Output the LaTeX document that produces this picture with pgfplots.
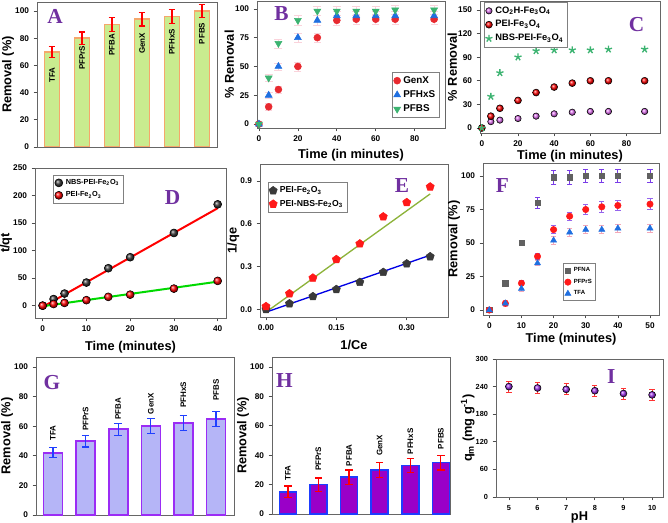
\documentclass[border=0pt]{standalone}
\usepackage{fontspec}
\setmainfont{Liberation Sans}
\newfontfamily\letterfont{Liberation Serif}
\usepackage{pgfplots}
\pgfplotsset{compat=1.18}

\definecolor{letterc}{HTML}{7030A0}
\definecolor{fillA}{HTML}{C9EC8F}
\definecolor{edgeA}{HTML}{F5A76C}
\definecolor{fillG}{HTML}{B5B5F7}
\definecolor{edgeG}{HTML}{9B2CF5}
\definecolor{errG}{HTML}{2040FF}
\definecolor{fillH}{HTML}{9A00C8}
\definecolor{edgeH}{HTML}{1E3CFF}
\definecolor{cred}{HTML}{E8292F}
\definecolor{cblue}{HTML}{1F6FE0}
\definecolor{cgreen}{HTML}{3CB371}
\definecolor{cviolet}{HTML}{E070F0}
\definecolor{cdark}{HTML}{3A3A3A}
\definecolor{lineolive}{HTML}{8DB33A}
\definecolor{errpink}{HTML}{F4A8B8}
\definecolor{errviolet}{HTML}{7A3DE8}
\definecolor{ballI}{HTML}{9B30E8}

\tikzset{letter/.style={font=\letterfont\fontsize{16}{16}\selectfont\bfseries, text=letterc}}
\pgfplotsset{
  panel/.style={
    scale only axis, anchor=south west,
    axis line style={black!60, line width=0.6pt},
    tick style={black!70, line width=0.5pt},
    tick align=outside, major tick length=2.5pt,
    xtick pos=bottom, ytick pos=left,
    tick label style={font=\fontsize{6.2}{7}\selectfont\bfseries},
    label style={font=\fontsize{9.6}{11}\selectfont\bfseries},
    ylabel shift=-6pt,
    /pgf/number format/assume math mode=true,
    legend cell align=left,
    legend style={draw=black!50, line width=0.4pt, inner sep=1pt},
  },
  barlab/.style={draw=none, mark=none, forget plot, nodes near coords,
    point meta=explicit symbolic,
    every node near coord/.append style={rotate=90, font=\fontsize{6}{6}\selectfont\bfseries, inner sep=0.5pt, text=black}},
}

\begin{document}
\begin{tikzpicture}
\path[use as bounding box] (0,0) rectangle (501pt,391.5pt);

% A
\begin{axis}[panel, at={(27.75pt,281.25pt)}, width=135pt, height=108.75pt,
  xmin=-0.5, xmax=5.5, ymin=0, ymax=106.6, xtick=\empty, ytick={0,20,...,100},
  ylabel={Removal (\%)}]
\addplot[ybar, bar width=11.25pt, fill=fillA, draw=edgeA, line width=1.2pt,
  error bars/.cd, y dir=both, y explicit,
  error bar style={red, line width=0.9pt},
  error mark options={rotate=90, red, mark size=2.5pt, line width=0.9pt}]
  table[x=x, y=y, y error=e] {
x y e
0 70 4
1 80 4.5
2 90 5
3 94 5
4 96 5
5 100 5
};
\addplot[barlab, every node near coord/.append style={anchor=east}]
  table[x=x, y=ly, meta=lab] {
x ly lab
0 59 TFA
1 75 PFPrS
2 84 PFBA
3 84.5 GenX
4 87.5 PFHxS
5 92 PFBS
};
\node[letter] at (rel axis cs:0.1,0.9) {A};
\end{axis}

% B
\begin{axis}[panel, at={(192.75pt,295.5pt)}, width=141pt, height=95.25pt,
  xmin=-1, xmax=95.6, ymin=-3.4, ymax=106.8, xtick={0,20,...,80}, ytick={0,25,...,100},
  xlabel={Time (in minutes)}, ylabel={\% Removal}, xlabel shift=-1pt,
  legend style={at={(0.97,0.08)}, anchor=south east, font=\fontsize{7.4}{8.5}\selectfont\bfseries}]
\addplot[only marks, mark=*, mark size=2.6pt, color=cred,
  error bars/.cd, y dir=both, y explicit, error bar style={errpink!50, line width=0.5pt}]
  coordinates {(0,0) (5,15) +- (0,3) (10,30) +- (0,3) (20,50) +- (0,4) (30,75) +- (0,4) (40,90) +- (0,4)
  (50,91) +- (0,4) (60,91) +- (0,4) (70,91) +- (0,4) (90,91) +- (0,4)};
\addplot[only marks, mark=triangle*, mark size=3pt, color=cblue,
  error bars/.cd, y dir=both, y explicit, error bar style={errpink!50, line width=0.5pt}]
  coordinates {(0,0) (5,25) +- (0,3) (10,50) +- (0,3) (20,75) +- (0,4) (30,90) +- (0,4) (40,94) +- (0,4)
  (50,94) +- (0,4) (60,94) +- (0,4) (70,94) +- (0,4) (90,94) +- (0,4)};
\addplot[only marks, mark=triangle*, mark size=3pt, color=cgreen, mark options={rotate=180},
  error bars/.cd, y dir=both, y explicit, error bar style={errpink!50, line width=0.5pt}]
  coordinates {(0,0) (5,40) +- (0,3) (10,70) +- (0,4) (20,90) +- (0,4) (30,98) +- (0,4) (40,98) +- (0,4)
  (50,98) +- (0,4) (60,98) +- (0,4) (70,99) +- (0,4) (90,99) +- (0,4)};
\legend{GenX, PFHxS, PFBS}
\node[letter] at (rel axis cs:0.13,0.9) {B};
\end{axis}

% C
\begin{axis}[panel, at={(360pt,291.75pt)}, width=135pt, height=99pt,
  xmin=-1, xmax=98.5, ymin=-6.4, ymax=161.4, xtick={0,20,...,80}, ytick={0,30,...,150},
  xlabel={Time (in minutes)}, ylabel={\% Removal}, xlabel shift=-4pt,
  legend style={at={(0.02,0.99)}, anchor=north west, font=\fontsize{7}{8}\selectfont\bfseries}]
\addplot[only marks, mark=ball, ball color=cviolet, mark size=2.4pt]
  coordinates {(0,0) (5,8) (10,10) (20,12) (30,15) (40,18) (50,20) (60,21) (70,21) (90,21)};
\addplot[only marks, mark=ball, ball color=red, mark size=2.6pt]
  coordinates {(0,0) (5,15) (10,25) (20,35) (30,45) (40,52) (50,57) (60,60) (70,60) (90,60)};
\addplot[only marks, mark=star, mark size=2.8pt, color=cgreen, line width=1pt]
  coordinates {(0,0) (5,40) (10,70) (20,90) (30,98) (40,99) (50,99) (60,99) (70,100) (90,100)};
\legend{CO\textsubscript{2}H-Fe\textsubscript{3}O\textsubscript{4}, PEI-Fe\textsubscript{3}O\textsubscript{4}, NBS-PEI-Fe\textsubscript{3}O\textsubscript{4}}
\node[letter] at (rel axis cs:0.87,0.82) {C};
\end{axis}

% D
\begin{axis}[panel, at={(26.25pt,153pt)}, width=143.25pt, height=112.5pt,
  xmin=-1.75, xmax=41.9, ymin=-22.4, ymax=250, xtick={0,10,...,40}, ytick={0,50,...,250},
  xlabel={Time (minutes)}, ylabel={t/qt},
  legend style={at={(0.094,0.953)}, anchor=north west, font=\fontsize{5.5}{6.5}\selectfont\bfseries}]
\addplot[red, line width=1.5pt, forget plot] coordinates {(0.5,0) (40,177)};
\addplot[green!85!black, line width=1.5pt, forget plot] coordinates {(0,-1) (40,43.6)};
\addplot[only marks, mark=ball, ball color=cdark, mark size=3pt]
  coordinates {(0,0) (2.5,12) (5,22) (10,42) (15,68) (20,88) (30,132) (40,184)};
\addplot[only marks, mark=ball, ball color=red, mark size=3pt]
  coordinates {(0,0) (2.5,3) (5,5) (10,10) (15,16) (20,20) (30,31) (40,45)};
\legend{NBS-PEI-Fe\textsubscript{2}O\textsubscript{3}, PEI-Fe\textsubscript{2}O\textsubscript{3}}
\node[letter] at (rel axis cs:0.72,0.8) {D};
\end{axis}

% E
\begin{axis}[panel, at={(195pt,153.75pt)}, width=141pt, height=114.75pt,
  xmin=-0.0128, xmax=0.388, ymin=-0.054, ymax=1.02,
  xtick={0,0.15,0.30}, xticklabels={0.00,0.15,0.30},
  ytick={0,0.3,0.6,0.9}, yticklabels={0.0,0.3,0.6,0.9},
  xlabel={1/Ce}, ylabel={1/qe},
  legend style={at={(0.04,0.88)}, anchor=north west, font=\fontsize{6.5}{7.5}\selectfont\bfseries}]
\addplot[lineolive, line width=1pt, forget plot] coordinates {(0,-0.02) (0.35,0.81)};
\addplot[blue!90!black, line width=1pt, forget plot] coordinates {(0,-0.02) (0.35,0.38)};
\addplot[only marks, mark=pentagon*, mark size=3.2pt, color=cdark]
  coordinates {(0,0) (0.05,0.04) (0.1,0.09) (0.15,0.14) (0.2,0.19) (0.25,0.26) (0.3,0.32) (0.35,0.37)};
\addplot[only marks, mark=pentagon*, mark size=3.2pt, color=red!90!white]
  coordinates {(0,0.02) (0.05,0.11) (0.1,0.22) (0.15,0.35) (0.2,0.46) (0.25,0.65) (0.3,0.75) (0.35,0.86)};
\legend{PEI-Fe\textsubscript{2}O\textsubscript{3}, PEI-NBS-Fe\textsubscript{2}O\textsubscript{3}}
\node[letter] at (rel axis cs:0.755,0.86) {E};
\end{axis}

% F
\begin{axis}[panel, at={(362.25pt,155.25pt)}, width=132pt, height=114pt,
  xmin=-1.96, xmax=52.8, ymin=-3.7, ymax=109.7, xtick={0,10,...,50}, ytick={0,25,...,100},
  xlabel={Time (minutes)}, ylabel={Removal (\%)}, xlabel shift=-4pt,
  legend style={at={(0.455,0.34)}, anchor=north west, font=\fontsize{4.5}{5.5}\selectfont\bfseries}]
\addplot[only marks, mark=square*, mark size=2pt, color=cdark!80,
  error bars/.cd, y dir=both, y explicit, error bar style={errviolet, line width=0.7pt},
  error mark options={rotate=90, errviolet, mark size=2pt, line width=0.7pt}]
  coordinates {(0,0) (5,20) +- (0,2) (10,50) +- (0,2) (15,80) +- (0,4) (20,99) +- (0,5) (25,99) +- (0,5)
  (30,100) +- (0,5) (35,100) +- (0,5) (40,100) +- (0,5) (50,100) +- (0,5)};
\addplot[only marks, mark=*, mark size=2.4pt, color=red!90!white,
  error bars/.cd, y dir=both, y explicit, error bar style={errviolet!80, line width=0.7pt},
  error mark options={rotate=90, errviolet!80, mark size=2pt, line width=0.7pt}]
  coordinates {(0,0) (5,5) +- (0,2) (10,20) +- (0,2) (15,40) +- (0,2) (20,60) +- (0,3) (25,70) +- (0,3)
  (30,75) +- (0,4) (35,77) +- (0,4) (40,78) +- (0,4) (50,79) +- (0,4)};
\addplot[only marks, mark=triangle*, mark size=2.6pt, color=cblue,
  error bars/.cd, y dir=both, y explicit, error bar style={errpink, line width=0.7pt},
  error mark options={rotate=90, errpink, mark size=2pt, line width=0.7pt}]
  coordinates {(0,0) (5,5) +- (0,2) (10,16) +- (0,2) (15,35) +- (0,2) (20,52) +- (0,3) (25,58) +- (0,3)
  (30,60) +- (0,3) (35,60) +- (0,3) (40,61) +- (0,3) (50,61) +- (0,3)};
\legend{PFNA, PFPrS, TFA}
\node[letter] at (rel axis cs:0.11,0.855) {F};
\end{axis}

% G
\begin{axis}[panel, at={(27pt,5.25pt)}, width=148.5pt, height=118.5pt,
  xmin=-0.52, xmax=5.55, ymin=0, ymax=106.8, xtick=\empty, ytick={0,20,...,100},
  ylabel={Removal (\%)}]
\addplot[ybar, bar width=14.25pt, fill=fillG, draw=edgeG, line width=1.2pt,
  error bars/.cd, y dir=both, y explicit,
  error bar style={errG, line width=0.9pt},
  error mark options={rotate=90, errG, mark size=2.8pt, line width=0.9pt}]
  table[x=x, y=y, y error=e] {
x y e
0 42 3.4
1 50 4
2 58 4
3 60 5
4 62 5
5 65 5
};
\addplot[barlab, every node near coord/.append style={anchor=west}]
  table[x=x, y=ly, meta=lab] {
x ly lab
0 49.5 TFA
1 56.3 PFPrS
2 64 PFBA
3 67.6 GenX
4 72 PFHxS
5 76.6 PFBS
};
\node[letter] at (rel axis cs:0.08,0.84) {G};
\end{axis}

% H
\begin{axis}[panel, at={(204pt,6pt)}, width=133.5pt, height=117.75pt,
  xmin=-0.52, xmax=5.3, ymin=0, ymax=106.8, xtick=\empty, ytick={0,20,...,100},
  ylabel={Removal (\%)}]
\addplot[ybar, bar width=12.75pt, fill=fillH, draw=edgeH, line width=1.2pt,
  error bars/.cd, y dir=both, y explicit,
  error bar style={red, line width=0.9pt},
  error mark options={rotate=90, red, mark size=2.8pt, line width=0.9pt}]
  table[x=x, y=y, y error=e] {
x y e
0 15 4
1 20 4.5
2 25 5
3 30 5
4 33 5
5 35 5
};
\addplot[barlab, every node near coord/.append style={anchor=west}]
  table[x=x, y=ly, meta=lab] {
x ly lab
0 22 TFA
1 28.8 PFPrS
2 32 PFBA
3 39 GenX
4 40 PFHxS
5 43.5 PFBS
};
\node[letter] at (rel axis cs:0.07,0.85) {H};
\end{axis}

% I
\begin{axis}[panel, at={(372pt,18.75pt)}, width=125.25pt, height=103.5pt,
  xmin=4.55, xmax=10.38, ymin=0, ymax=300, xtick={5,...,10}, ytick={0,60,...,300},
  tick label style={font=\fontsize{5.5}{6}\selectfont\bfseries},
  xlabel={pH}, ylabel={q\textsubscript{m} (mg g\textsuperscript{-1})}, xlabel shift=-6pt]
\addplot[only marks, mark=ball, ball color=ballI, mark size=2.6pt,
  error bars/.cd, y dir=both, y explicit, error bar style={red!80, line width=0.6pt},
  error mark options={rotate=90, red!80, mark size=2pt, line width=0.6pt}]
  coordinates {(5,240) +- (0,12) (6,237) +- (0,12) (7,234) +- (0,12) (8,231) +- (0,12) (9,225) +- (0,12) (10,222) +- (0,11)};
\node[letter] at (rel axis cs:0.69,0.87) {I};
\end{axis}
\end{tikzpicture}
\end{document}
